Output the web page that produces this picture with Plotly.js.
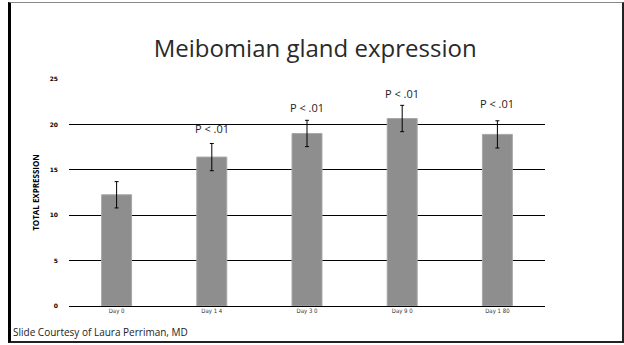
<!DOCTYPE html>
<html>
<head>
<meta charset="utf-8">
<script src="https://cdn.plot.ly/plotly-3.0.1.min.js"></script>
<style>
html,body{margin:0;padding:0;background:#fff;}
#wrap{position:relative;width:624px;height:345px;overflow:hidden;}
#frame{position:absolute;left:8px;top:2px;width:611px;height:338px;border-left:3px solid #000;border-top:1px solid #888;border-right:2px solid #222;border-bottom:2px solid #222;pointer-events:none;}
#chart{position:absolute;left:0;top:0;width:624px;height:345px;}
</style>
</head>
<body>
<div id="wrap">
<div id="chart"></div>
<div id="frame"></div>
</div>
<script>
const categories = ["Day 0", "Day 14", "Day 30", "Day 90", "Day 180"];
const tickLabels = ["Day 0", "Day 1 4", "Day 3 0", "Day 9 0", "Day 1 80"];
const values = [12.25, 16.4, 19.0, 20.65, 18.9];
const errors = [1.45, 1.5, 1.45, 1.45, 1.5];
const pCategories = ["Day 14", "Day 30", "Day 90", "Day 180"];
const pYValues = [19.6, 21.9, 23.4, 22.3];
const pLabel = "P < .01";
const yTicks = [0, 5, 10, 15, 20, 25];

const trace = {
  type: 'bar',
  x: categories,
  y: values,
  marker: {color: '#8e8e8e', line: {color: '#a8a8a8', width: 1}},
  error_y: {type: 'data', array: errors, visible: true, color: '#000', thickness: 1, width: 2},
  hoverinfo: 'none'
};

const annotations = pCategories.map((c, i) => ({
  x: c, y: pYValues[i], xref: 'x', yref: 'y', text: pLabel, showarrow: false,
  font: {family: 'Open Sans, sans-serif', size: 11, color: '#222'}
}));
annotations.push({
  xref: 'paper', yref: 'paper', x: -0.122, y: -0.116, xanchor: 'left', yanchor: 'middle',
  text: 'Slide Courtesy of Laura Perriman, MD', showarrow: false,
  font: {family: 'Open Sans, sans-serif', size: 10, color: '#222'}
});

const layout = {
  width: 624, height: 345,
  margin: {l: 69, r: 79, t: 79, b: 39},
  paper_bgcolor: 'rgba(0,0,0,0)', plot_bgcolor: 'rgba(0,0,0,0)',
  bargap: 0.685,
  showlegend: false,
  title: {text: 'Meibomian gland expression', x: 0.505, xanchor: 'center', y: 0.86, yanchor: 'middle',
          font: {family: 'Open Sans, sans-serif', size: 24, color: '#2a2a2a', weight: 400}},
  xaxis: {
    type: 'category', tickvals: categories, ticktext: tickLabels,
    showgrid: false, zeroline: false, showline: false, ticks: '',
    tickfont: {family: 'DejaVu Sans Condensed, sans-serif', size: 6, color: '#333'}
  },
  yaxis: {
    range: [0, 25], tickvals: yTicks, showgrid: true, gridcolor: '#000', gridwidth: 1,
    zeroline: true, zerolinecolor: '#000', zerolinewidth: 1, showline: false, ticks: '',
    ticklabelstandoff: 10,
    tickfont: {family: 'DejaVu Sans, sans-serif', size: 6, color: '#000', weight: 'bold'},
    title: {text: 'TOTAL EXPRESSION', standoff: 8,
            font: {family: 'Open Sans, sans-serif', size: 8, color: '#000', weight: 'bold'}}
  },
  annotations: annotations
};

Plotly.newPlot('chart', [trace], layout, {staticPlot: true, displayModeBar: false});
</script>
</body>
</html>
